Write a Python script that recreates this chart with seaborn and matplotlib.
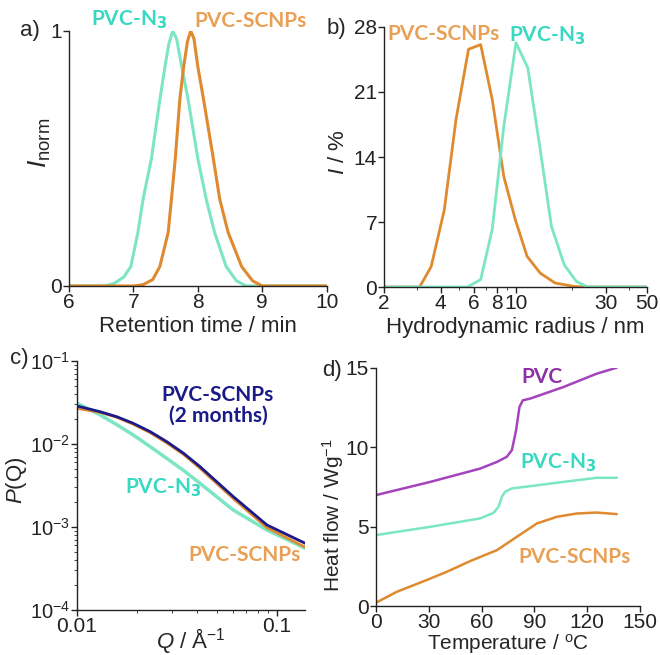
import numpy as np
import pandas as pd
import matplotlib
matplotlib.use('Agg')
import matplotlib.pyplot as plt
import matplotlib.ticker as mticker
import seaborn as sns

# a) SEC traces
sec_t_n3 = [6.0, 6.55, 6.7, 6.85, 6.96, 7.07, 7.15, 7.28, 7.41, 7.49, 7.55, 7.61,
            7.67, 7.75, 7.85, 8.0, 8.13, 8.26, 8.44, 8.6, 8.75, 10.0]
sec_i_n3 = [0, 0, 0.01, 0.035, 0.076, 0.21, 0.34, 0.5, 0.73, 0.86, 0.95, 1.0,
            0.97, 0.86, 0.73, 0.5, 0.34, 0.21, 0.076, 0.02, 0, 0]
sec_t_scnp = [6.0, 7.0, 7.15, 7.3, 7.41, 7.54, 7.59, 7.65, 7.72, 7.78, 7.84, 7.89,
              7.94, 8.0, 8.09, 8.24, 8.34, 8.47, 8.68, 8.85, 9.0, 10.0]
sec_i_scnp = [0, 0, 0.005, 0.025, 0.076, 0.21, 0.34, 0.5, 0.73, 0.86, 0.96, 1.0,
              0.97, 0.86, 0.73, 0.5, 0.34, 0.21, 0.076, 0.02, 0, 0]

# b) DLS
dls_r_scnp = [2.0, 3.09, 3.56, 4.18, 4.82, 5.62, 6.52, 7.51, 8.65, 9.96, 11.5, 13.5, 16.2, 20.6, 24.2, 50.0]
dls_i_scnp = [0, 0, 2.2, 8.3, 18.0, 25.6, 26.1, 20.2, 11.9, 7.25, 3.3, 1.5, 0.43, 0.05, 0, 0]
dls_r_n3 = [2.0, 5.55, 6.52, 7.51, 8.65, 10.04, 11.6, 13.5, 15.5, 18.1, 21.0, 24.2, 50.0]
dls_i_n3 = [0, 0, 0.8, 6.2, 17.3, 26.3, 23.6, 14.8, 6.5, 2.4, 0.6, 0, 0]

# c) SAXS form factor
q_vals = [0.01, 0.01303, 0.0158, 0.0191, 0.0232, 0.0281, 0.0341, 0.0412, 0.0605, 0.0891, 0.1387]
p_n3 = [0.031, 0.0224, 0.0171, 0.01285, 0.0093, 0.00671, 0.0048, 0.00336, 0.0016, 0.00092, 0.000553]
p_2m = [0.0287, 0.0245, 0.0213, 0.01774, 0.0141, 0.01067, 0.00773, 0.00534, 0.00232, 0.001057, 0.000635]
p_scnp = [0.0269, 0.0240, 0.0210, 0.0173, 0.0137, 0.0103, 0.0075, 0.0051, 0.00220, 0.00098, 0.000569]

# d) DSC
dsc_t_pvc = [0, 30.8, 59.2, 68.7, 74.3, 77.2, 79.6, 81.5, 83.4, 87.6, 106.5, 125.4, 136.8]
dsc_h_pvc = [6.99, 7.82, 8.66, 9.08, 9.40, 9.82, 11.08, 12.54, 12.96, 13.07, 13.8, 14.64, 15.02]
dsc_t_n3 = [0, 30.8, 59.2, 66.8, 69.6, 71.5, 73.4, 77.2, 87.6, 106.5, 125.4, 136.8]
dsc_h_n3 = [4.47, 4.99, 5.52, 5.87, 6.25, 6.88, 7.2, 7.41, 7.55, 7.82, 8.08, 8.08]
dsc_t_scnp = [0, 11.9, 28.9, 40.3, 53.5, 68.7, 80.0, 91.4, 102.7, 114.1, 125.4, 136.8]
dsc_h_scnp = [0.21, 0.9, 1.64, 2.16, 2.83, 3.52, 4.36, 5.2, 5.62, 5.83, 5.89, 5.79]

teal_line = '#7ce6c4'
teal_text = '#38d8c2'
orange_line = '#e08a30'
orange_text = '#e9a055'
navy = '#1a1a88'
purple = '#a444bc'
purple_text = '#8c30a4'

sns.set_style('ticks')
plt.rcParams['font.family'] = ['Liberation Sans', 'DejaVu Sans']
plt.rcParams['mathtext.fontset'] = 'custom'
plt.rcParams['mathtext.rm'] = 'Liberation Sans'
plt.rcParams['mathtext.it'] = 'Liberation Sans:italic'
plt.rcParams['axes.edgecolor'] = '#222222'
plt.rcParams['xtick.color'] = '#222222'
plt.rcParams['ytick.color'] = '#222222'

FS = 15
LFS = 16
LBL = dict(family=['Lato', 'DejaVu Sans'], fontweight='bold', fontsize=15)

fig = plt.figure(figsize=(6.6, 6.55), dpi=100)
ax_a = fig.add_axes([0.1045, 0.5634, 0.3905, 0.3893])
ax_b = fig.add_axes([0.5818, 0.5618, 0.3990, 0.3970])
ax_c = fig.add_axes([0.1167, 0.0687, 0.3453, 0.3802])
ax_d = fig.add_axes([0.5697, 0.0748, 0.4000, 0.3634])

for ax in (ax_a, ax_b, ax_c, ax_d):
    sns.despine(ax=ax)
    ax.tick_params(labelsize=FS, length=4, width=1, pad=1)
    for s in ax.spines.values():
        s.set_linewidth(1)

# a)
sns.lineplot(x=sec_t_n3, y=sec_i_n3, ax=ax_a, color=teal_line, lw=2.2, sort=False)
sns.lineplot(x=sec_t_scnp, y=sec_i_scnp, ax=ax_a, color=orange_line, lw=2.2, sort=False)
ax_a.set_xlim(6, 10)
ax_a.set_ylim(0, 1)
ax_a.set_xticks([6, 7, 8, 9, 10])
ax_a.set_yticks([0, 1])
ax_a.set_xlabel('Retention time / min', fontsize=LFS, va='center')
ax_a.set_ylabel(r'$\mathit{I}_{\mathrm{norm}}$', fontsize=LFS + 3, va='center')
ax_a.xaxis.set_label_coords(0.5, -0.16)
ax_a.yaxis.set_label_coords(-0.112, 0.56)
ax_a.text(6.93, 1.0, r'PVC-N$_\mathbf{3}$', color=teal_text, ha='center', va='bottom', clip_on=False, **LBL)
ax_a.text(8.82, 1.0, 'PVC-SCNPs', color=orange_text, ha='center', va='bottom', clip_on=False, **LBL)

# b)
sns.lineplot(x=dls_r_scnp, y=dls_i_scnp, ax=ax_b, color=orange_line, lw=2, sort=False)
sns.lineplot(x=dls_r_n3, y=dls_i_n3, ax=ax_b, color=teal_line, lw=2, sort=False)
ax_b.set_xscale('log')
ax_b.set_xlim(2, 50)
ax_b.set_ylim(0, 28)
ax_b.set_xticks([2, 4, 6, 8, 10, 30, 50])
ax_b.xaxis.set_major_formatter(mticker.FixedFormatter(['2', '4', '6', '8', '10', '30', '50']))
ax_b.set_xticks([3, 5, 7, 9, 20, 40], minor=True)
ax_b.xaxis.set_minor_formatter(mticker.NullFormatter())
ax_b.tick_params(which='minor', length=2.5)
ax_b.set_yticks([0, 7, 14, 21, 28])
ax_b.set_xlabel('Hydrodynamic radius / nm', fontsize=LFS, va='center')
ax_b.set_ylabel(r'$\mathit{I}$ / %', fontsize=LFS, va='center')
ax_b.xaxis.set_label_coords(0.5, -0.154)
ax_b.yaxis.set_label_coords(-0.173, 0.52)
ax_b.text(4.16, 26.2, 'PVC-SCNPs', color=orange_text, ha='center', va='bottom', clip_on=False, **LBL)
ax_b.text(14.7, 25.8, r'PVC-N$_\mathbf{3}$', color=teal_text, ha='center', va='bottom', clip_on=False, **LBL)

# c)
sns.lineplot(x=q_vals, y=p_n3, ax=ax_c, color=teal_line, lw=2.5, sort=False)
sns.lineplot(x=q_vals, y=p_scnp, ax=ax_c, color=orange_line, lw=2, sort=False)
sns.lineplot(x=q_vals, y=p_2m, ax=ax_c, color=navy, lw=2, sort=False)
ax_c.set_xscale('log')
ax_c.set_yscale('log')
ax_c.set_xlim(0.01, 0.138)
ax_c.set_ylim(1e-4, 1e-1)
ax_c.set_xticks([0.01, 0.1])
ax_c.xaxis.set_major_formatter(mticker.FixedFormatter(['0.01', '0.1']))
ax_c.xaxis.set_minor_formatter(mticker.NullFormatter())
ax_c.tick_params(which='minor', length=2)
ax_c.tick_params(axis='y', labelsize=14.5)
ax_c.set_xlabel(r'$\mathit{Q}$ / Å$^{-1}$', fontsize=LFS, va='center')
ax_c.set_ylabel(r'$\mathit{P}$(Q)', fontsize=LFS, va='center')
ax_c.xaxis.set_label_coords(0.5, -0.125)
ax_c.yaxis.set_label_coords(-0.265, 0.52)
ax_c.text(0.0507, 0.0295, 'PVC-SCNPs\n(2 months)', color=navy, ha='center', va='center',
          linespacing=1.05, **LBL)
ax_c.text(0.0269, 0.00295, r'PVC-N$_\mathbf{3}$', color=teal_text, ha='center', va='center', **LBL)
ax_c.text(0.0692, 0.00046, 'PVC-SCNPs', color=orange_text, ha='center', va='center', **LBL)

# d)
sns.lineplot(x=dsc_t_pvc, y=dsc_h_pvc, ax=ax_d, color=purple, lw=1.8, sort=False)
sns.lineplot(x=dsc_t_n3, y=dsc_h_n3, ax=ax_d, color=teal_line, lw=1.8, sort=False)
sns.lineplot(x=dsc_t_scnp, y=dsc_h_scnp, ax=ax_d, color=orange_line, lw=1.8, sort=False)
ax_d.set_xlim(0, 150)
ax_d.set_ylim(0, 15)
ax_d.set_xticks([0, 30, 60, 90, 120, 150])
ax_d.set_yticks([0, 5, 10, 15])
ax_d.set_xlabel(r'Temperature / $^{\mathrm{o}}$C', fontsize=LFS - 1, va='center')
ax_d.set_ylabel(r'Heat flow / Wg$^{-1}$', fontsize=LFS - 1, va='center')
ax_d.xaxis.set_label_coords(0.5, -0.158)
ax_d.yaxis.set_label_coords(-0.163, 0.38)
ax_d.text(94.3, 14.43, 'PVC', color=purple_text, ha='center', va='center', **LBL)
ax_d.text(103.4, 9.0, r'PVC-N$_\mathbf{3}$', color=teal_text, ha='center', va='center', **LBL)
ax_d.text(113, 3.09, 'PVC-SCNPs', color=orange_text, ha='center', va='center', **LBL)

for lab, x, y in [('a)', 0.045, 0.953), ('b)', 0.51, 0.957), ('c)', 0.03, 0.453), ('d)', 0.503, 0.435)]:
    fig.text(x, y, lab, fontsize=LFS, ha='center', va='center')

fig.savefig('out.png', dpi=100)
